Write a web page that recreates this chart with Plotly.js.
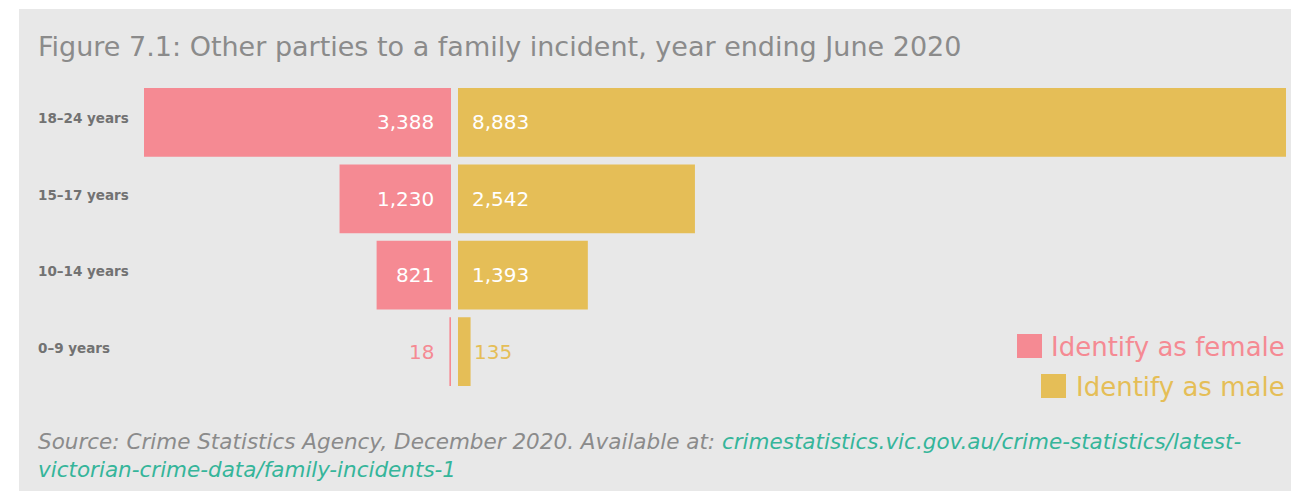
<!DOCTYPE html>
<html>
<head>
<meta charset="utf-8">
<script src="https://cdn.plot.ly/plotly-3.0.1.min.js"></script>
<style>
  html, body { margin: 0; padding: 0; background: #ffffff; }
  #plot { width: 1291px; height: 491px; }
</style>
</head>
<body>
<div id="plot"></div>
<script>
// age groups, bottom to top
let ageGroups = ["0–9 years", "10–14 years", "15–17 years", "18–24 years"];
let femaleCounts = [18, 821, 1230, 3388];
let maleCounts = [135, 1393, 2542, 8883];
let seriesNames = ["Identify as female", "Identify as male"];

let pink = "#f58a93";
let gold = "#e5be57";
let grey = "#8b8b8b";
let teal = "#35b59a";
let font = "DejaVu Sans, sans-serif";

// pixel helpers for the 1291 x 491 page
const W = 1291, H = 491;
const px = x => x / W;
const py = y => 1 - y / H;

let femaleTrace = {
    y: ageGroups,
    x: femaleCounts,
    name: seriesNames[0],
    type: "bar",
    orientation: "h",
    xaxis: "x",
    yaxis: "y",
    marker: { color: pink },
    hoverinfo: "skip"
};

let maleTrace = {
    y: ageGroups,
    x: maleCounts,
    name: seriesNames[1],
    type: "bar",
    orientation: "h",
    xaxis: "x2",
    yaxis: "y",
    marker: { color: gold },
    hoverinfo: "skip"
};

let annotations = [];

// age labels on the left
ageGroups.forEach(g => {
    annotations.push({
        x: px(36), xref: "paper", xanchor: "left",
        y: g, yref: "y", yanchor: "middle", yshift: 4,
        text: g, showarrow: false,
        font: { family: font, size: 13.5, color: "#727272", weight: "bold" }
    });
});

// value labels, inside the bar near the centre line, outside when the bar is too small
ageGroups.forEach((g, i) => {
    let f = femaleCounts[i], m = maleCounts[i];
    annotations.push({
        x: 0, xref: "x", xanchor: "right", xshift: -15,
        y: g, yref: "y", yanchor: "middle",
        text: f.toLocaleString("en-US"), showarrow: false,
        font: { family: font, size: 20, color: f > 300 ? "#ffffff" : pink }
    });
    annotations.push({
        x: 0, xref: "x2", xanchor: "left", xshift: m > 300 ? 12 : 14,
        y: g, yref: "y", yanchor: "middle",
        text: m.toLocaleString("en-US"), showarrow: false,
        font: { family: font, size: 20, color: m > 300 ? "#ffffff" : gold }
    });
});

// title
annotations.push({
    x: px(36), xref: "paper", xanchor: "left",
    y: py(46), yref: "paper", yanchor: "middle",
    text: "Figure 7.1: Other parties to a family incident, year ending June 2020",
    showarrow: false,
    font: { family: font, size: 27, color: grey }
});

// legend drawn by hand so the swatches can be big
annotations.push({
    x: px(1287), xref: "paper", xanchor: "right",
    y: py(347), yref: "paper", yanchor: "middle",
    text: seriesNames[0], showarrow: false,
    font: { family: font, size: 26, color: pink }
});
annotations.push({
    x: px(1287), xref: "paper", xanchor: "right",
    y: py(387), yref: "paper", yanchor: "middle",
    text: seriesNames[1], showarrow: false,
    font: { family: font, size: 26, color: gold }
});

// source note
annotations.push({
    x: px(36), xref: "paper", xanchor: "left",
    y: py(455), yref: "paper", yanchor: "middle", align: "left",
    text: "Source: Crime Statistics Agency, December 2020. Available at: " +
          "<span style='color:" + teal + "'>crimestatistics.vic.gov.au/crime-statistics/latest-</span><br>" +
          "<span style='color:" + teal + "'>victorian-crime-data/family-incidents-1</span>",
    showarrow: false,
    font: { family: font, size: 21.5, color: grey, style: "italic" }
});

let shapes = [
    // grey card behind everything
    { type: "rect", xref: "paper", yref: "paper", x0: px(19), x1: 1, y0: 0, y1: py(9),
      fillcolor: "#e8e8e8", line: { width: 0 }, layer: "below" },
    { type: "rect", xref: "paper", yref: "paper", x0: px(1017), x1: px(1042), y0: py(358), y1: py(334),
      fillcolor: pink, line: { width: 0 } },
    { type: "rect", xref: "paper", yref: "paper", x0: px(1041), x1: px(1066), y0: py(398), y1: py(374),
      fillcolor: gold, line: { width: 0 } }
];

let hidden = { showgrid: false, zeroline: false, showticklabels: false, showline: false, ticks: "" };

let layout = {
    width: W,
    height: H,
    margin: { l: 0, r: 0, t: 0, b: 0 },
    paper_bgcolor: "#ffffff",
    plot_bgcolor: "rgba(0,0,0,0)",
    showlegend: false,
    barmode: "overlay",
    bargap: 0.1,
    xaxis: Object.assign({ domain: [px(144), px(451)], range: [3388, 0], anchor: "y" }, hidden),
    xaxis2: Object.assign({ domain: [px(458), px(1286)], range: [0, 8883], anchor: "y" }, hidden),
    yaxis: Object.assign({
        domain: [py(389.7), py(84.3)], range: [-0.5, 3.5],
        type: "category", categoryorder: "array", categoryarray: ageGroups, anchor: "x"
    }, hidden),
    annotations: annotations,
    shapes: shapes
};

Plotly.newPlot("plot", [femaleTrace, maleTrace], layout, { displayModeBar: false, staticPlot: true });
</script>
</body>
</html>
